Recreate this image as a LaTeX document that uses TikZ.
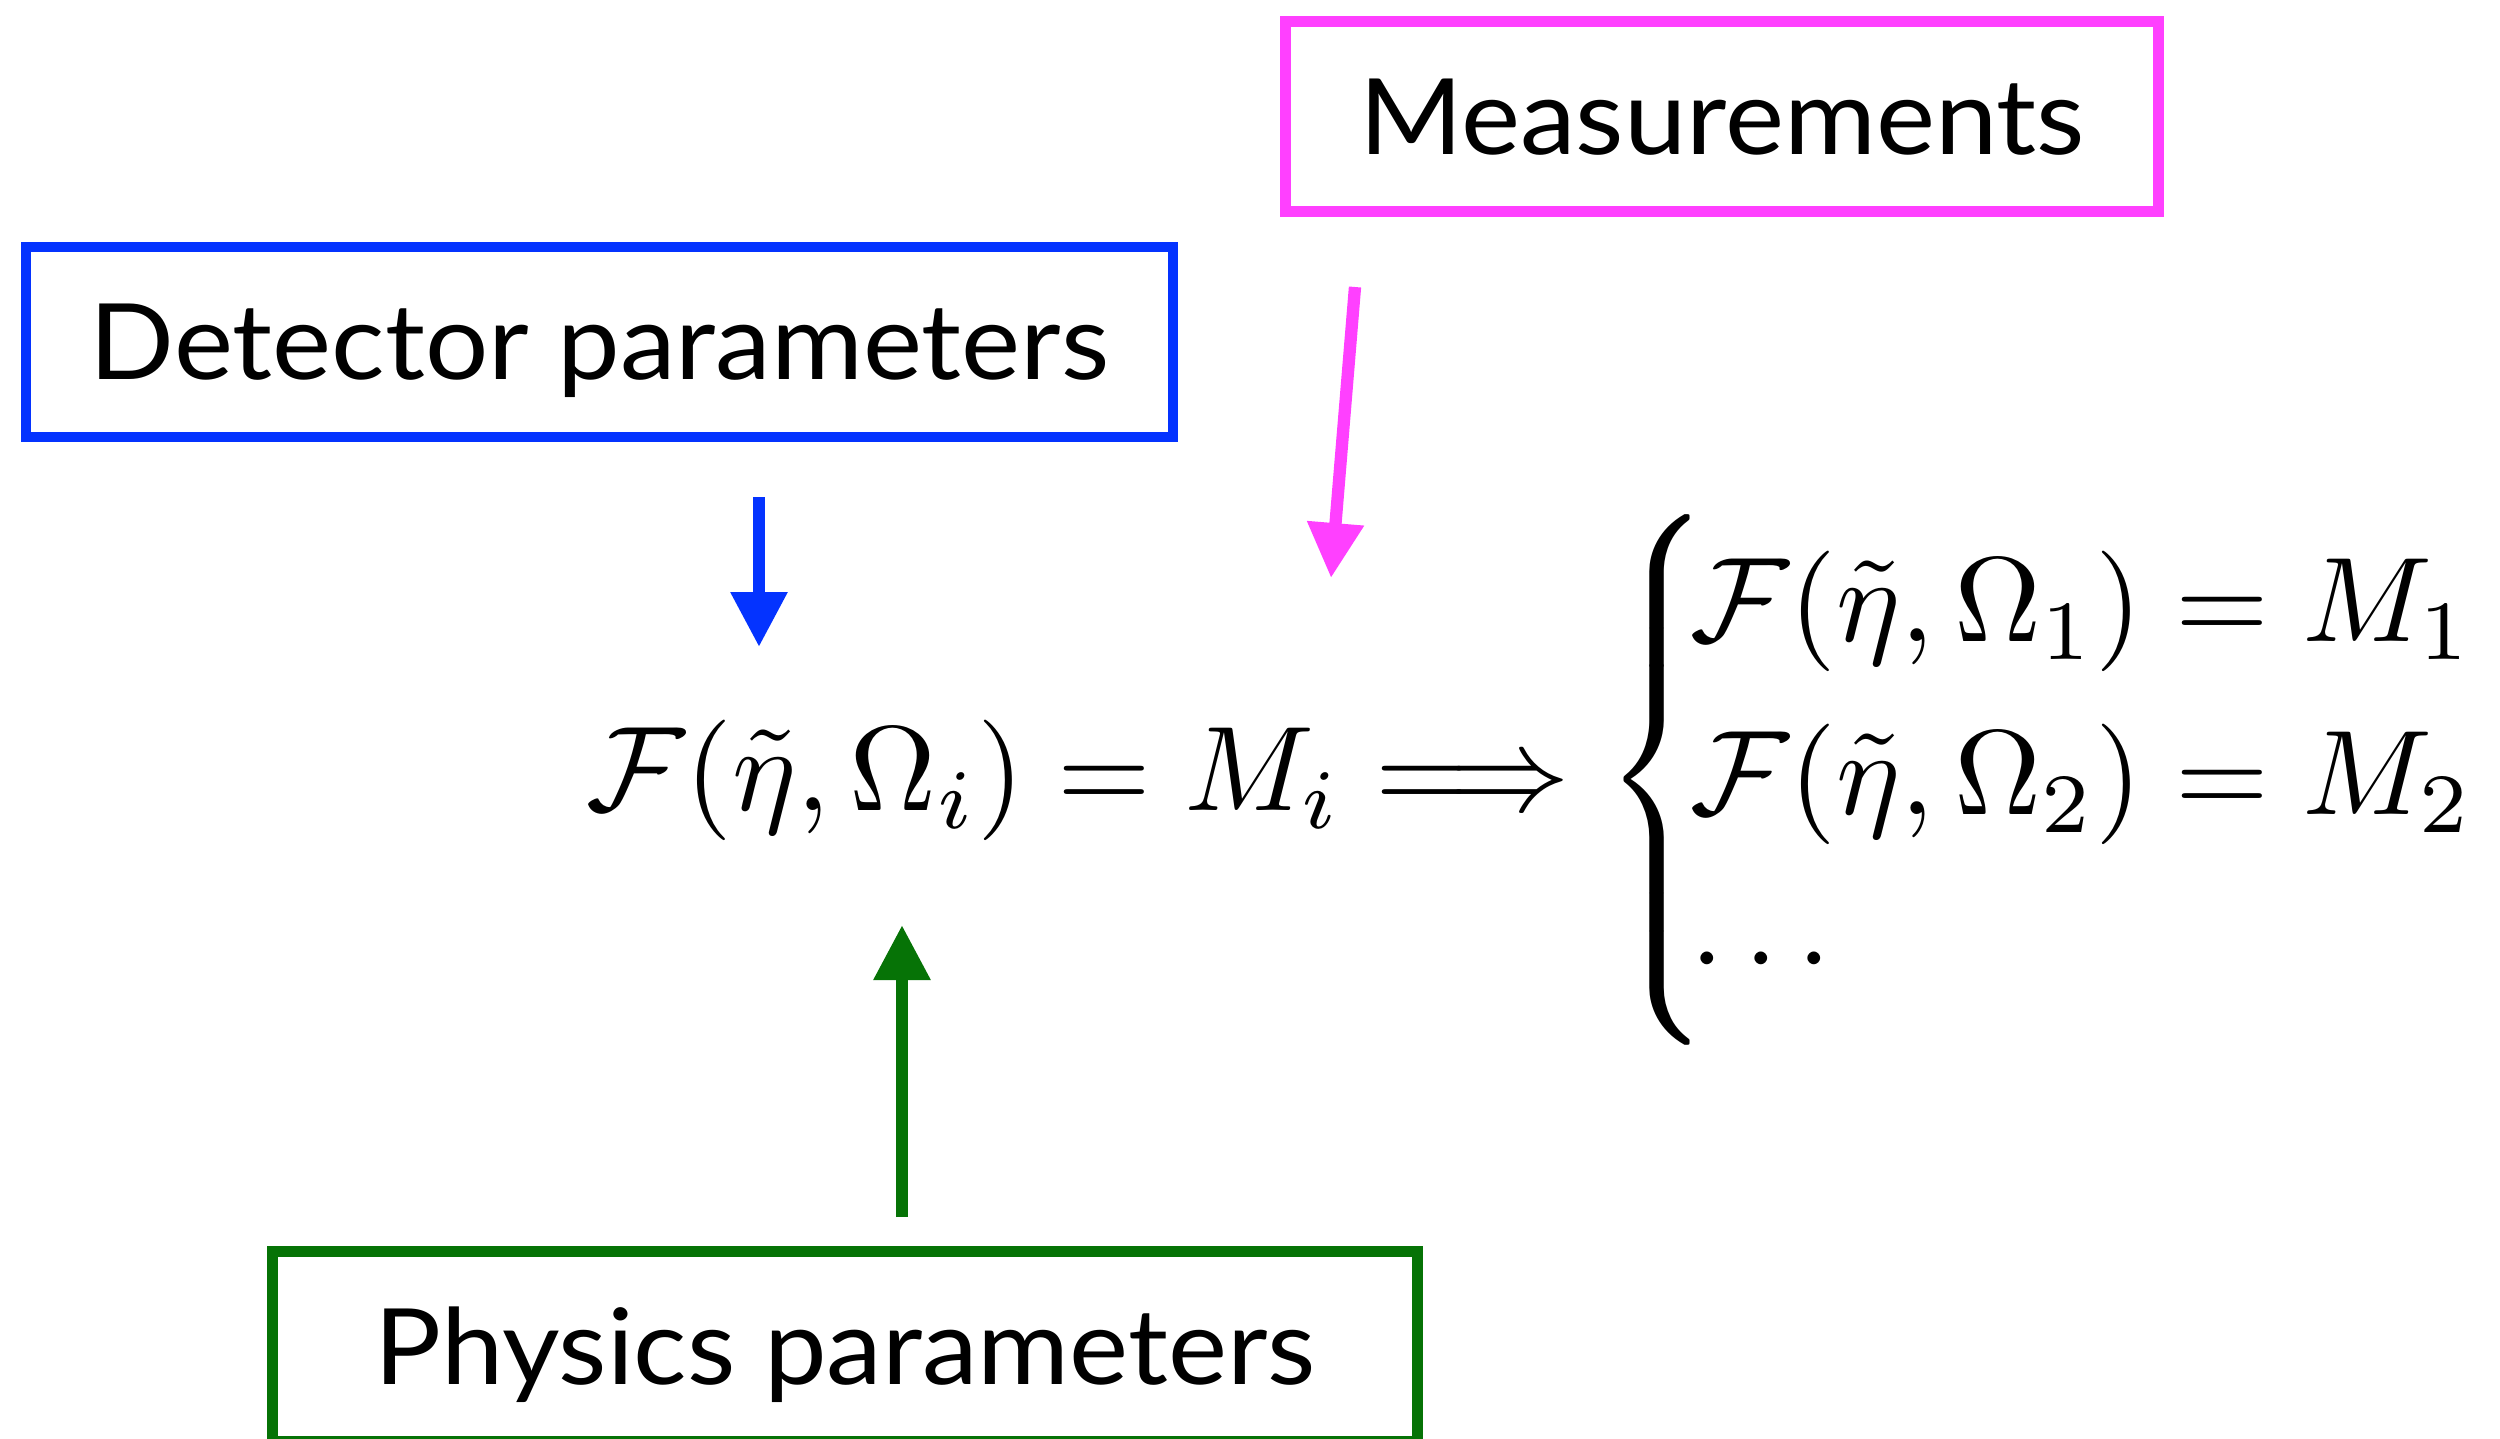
\documentclass[tikz,border=0pt]{standalone}
\usepackage[no-math]{fontspec}
\usepackage{amsmath}
\newfontfamily\labfont[FakeStretch=1.06]{Lato}
\usetikzlibrary{arrows.meta}
\definecolor{detblue}{RGB}{4,51,255}
\definecolor{measmag}{RGB}{255,64,255}
\definecolor{physgreen}{RGB}{6,115,6}
\newcommand{\eqrows}{\def\arraystretch{1.2}\begin{array}{@{}l@{}}
   \mathcal{F}(\tilde{\eta},\Omega_1) = M_1\\
   \mathcal{F}(\tilde{\eta},\Omega_2) = M_2\\
   \cdots
   \end{array}}
\newcommand{\eqbrace}{\vcenter{\hbox{\nulldelimiterspace=0pt\scalebox{1}[1.05]{$\left\{\vphantom{\eqrows}\right.$}}}\kern-1.6pt}
\tikzset{
  labbox/.style={draw, line width=3pt, inner sep=0pt, minimum height=19mm,
    text height=7.5mm, text depth=0pt, font=\labfont\fontsize{30}{36}\selectfont},
  feed/.style={line width=3.5pt, -{Triangle[length=5.5mm,width=5.4mm]}}
}
\begin{document}
\begin{tikzpicture}[x=0.1mm,y=-0.1mm]
\useasboundingbox (0,0) rectangle (2500,1438);
\node[labbox, draw=measmag, minimum width=87.3mm] (meas) at (1722,116.5) {Measurements};
\node[labbox, draw=detblue, minimum width=114.7mm] (det) at (599.5,342) {Detector parameters};
\node[labbox, draw=physgreen, minimum width=114.5mm] (phys) at (845,1346.5) {Physics parameters};
\node[inner sep=0pt, anchor=base west] (eq) at (586,810)
  {\scalebox{3.43}{$\mathcal{F}(\tilde{\eta},\Omega_i) = M_i \Longrightarrow
   \mathinner{\eqbrace\eqrows}$}};
\coordinate (detS) at (759,497);
\coordinate (detT) at (759,647);
\coordinate (measS) at (1355,287);
\coordinate (measT) at (1331,578);
\coordinate (physS) at (902,1217);
\coordinate (physT) at (902,925);
\draw[feed, detblue] (detS) -- (detT);
\draw[feed, measmag] (measS) -- (measT);
\draw[feed, physgreen] (physS) -- (physT);
\end{tikzpicture}
\end{document}
